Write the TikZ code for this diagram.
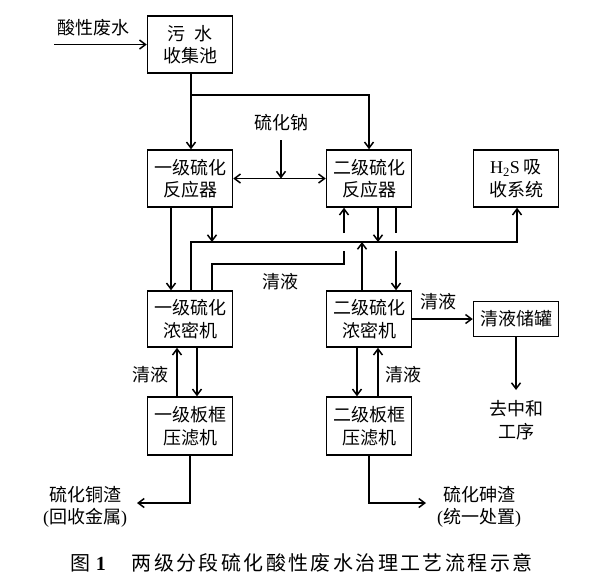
\documentclass[tikz,border=0pt]{standalone}
\usepackage{fontspec}
\setmainfont{Liberation Serif}
\newfontfamily\cjk{Noto Sans CJK SC}
\newfontfamily\capcjk[LetterSpace=12]{Noto Sans CJK SC}
\usetikzlibrary{arrows.meta,calc}
\begin{document}
\begin{tikzpicture}[x=1pt,y=-1pt,line width=1.5pt,
  box/.style={draw,minimum width=85pt,minimum height=57pt,align=center,inner sep=0pt,
    font=\cjk\fontsize{18}{22.5}\selectfont},
  lbl/.style={align=center,inner sep=0pt,font=\cjk\fontsize{18}{22.5}\selectfont},
  arr/.style={-{Straight Barb[length=6pt,width=9pt]}},
  darr/.style={{Straight Barb[length=6pt,width=9pt]}-{Straight Barb[length=6pt,width=9pt]}}]
\useasboundingbox (0,0) rectangle (594,587);
% boxes
\node[box] (pool) at (190,44.5) {污\hspace{0.5em}水\\收集池};
\node[box] (r1) at (190,178.5) {一级硫化\\反应器};
\node[box] (r2) at (369,178.5) {二级硫化\\反应器};
\node[box] (h2s) at (516,178.5) {{\rmfamily H\textsubscript{2}S} 吸\\收系统};
\node[box,minimum height=56pt] (t1) at (190,319) {一级硫化\\浓密机};
\node[box,minimum height=56pt] (t2) at (369,319) {二级硫化\\浓密机};
\node[box,minimum height=35pt] (tank) at (516,319) {清液储罐};
\node[box,minimum height=58pt] (f1) at (190,426) {一级板框\\压滤机};
\node[box,minimum height=58pt] (f2) at (369,426) {二级板框\\压滤机};
% labels
\node[lbl] (acid) at (93,28) {酸性废水};
\node[lbl] (na) at (281,123) {硫化钠};
\node[lbl] (cl1) at (280,282) {清液};
\node[lbl] (cl2) at (438,302) {清液};
\node[lbl] (cl3) at (150,375) {清液};
\node[lbl] (cl4) at (403,375) {清液};
\node[lbl] (neu) at (516,420) {去中和\\工序};
\node[lbl] (cu) at (85,507) {硫化铜渣\\{\rmfamily(}回收金属{\rmfamily)}};
\node[lbl] (as) at (479,507) {硫化砷渣\\{\rmfamily(}统一处置{\rmfamily)}};
\node[anchor=west,inner sep=0pt] (cap) at (70,563) {{\cjk\fontsize{20}{24}\selectfont 图}\hspace{5pt}{\bfseries\fontsize{20}{24}\selectfont 1}\hspace{26pt}{\capcjk\fontsize{20}{24}\selectfont 两级分段硫化酸性废水治理工艺流程示意}};
% coordinates
\coordinate (in) at (54,44.5);
\coordinate (j) at (191,95);
\coordinate (m) at (281,178.5);
\coordinate (g1) at (191,242);
\coordinate (g2) at (517,242);
\coordinate (c1) at (344,264);
\coordinate (c2) at (344,233);
\coordinate (d1) at (396,233);
\coordinate (d2) at (396,251);
\coordinate (nt) at (516,390);
\coordinate (o1) at (137,503);
\coordinate (o2) at (426,503);
% connectors
\draw[arr] (in) -- (pool.west);
\draw[arr] ([xshift=1pt]pool.south) -- ([xshift=1pt]r1.north);
\draw[arr] (j) -| (r2.north);
\draw[arr] ([yshift=-8pt]na.south) -- (m);
\draw[darr] (r1.east) -- (r2.west);
\draw[arr] ([xshift=-19pt]r1.south) -- ([xshift=-19pt]t1.north);
\draw[arr] ([xshift=1pt]t1.north) -- (g1) -- (g2) -- ([xshift=1pt]h2s.south);
\draw[arr] ([xshift=22pt]r1.south) -- ([xshift=22pt]r1.south |- g1);
\draw[arr] ([xshift=9pt]r2.south) -- ([xshift=9pt]r2.south |- g1);
\draw[arr] ([xshift=-7pt]t2.north) -- ([xshift=-7pt]t2.north |- g1);
\draw ([xshift=22pt]t1.north) |- (c1) -- ++(0,-13);
\draw[arr] (c2) -- (c2 |- r2.south);
\draw (d1 |- r2.south) -- (d1);
\draw[arr] (d2) -- (d2 |- t2.north);
\draw[arr] (t2.east) -- (tank.west);
\draw[arr] (tank.south) -- (nt);
\draw[arr] ([xshift=-13pt]f1.north) -- ([xshift=-13pt]t1.south);
\draw[arr] ([xshift=7pt]t1.south) -- ([xshift=7pt]f1.north);
\draw[arr] ([xshift=-12pt]t2.south) -- ([xshift=-12pt]f2.north);
\draw[arr] ([xshift=9pt]f2.north) -- ([xshift=9pt]t2.south);
\draw[arr] (f1.south) |- (o1);
\draw[arr] (f2.south) |- (o2);
\end{tikzpicture}
\end{document}
